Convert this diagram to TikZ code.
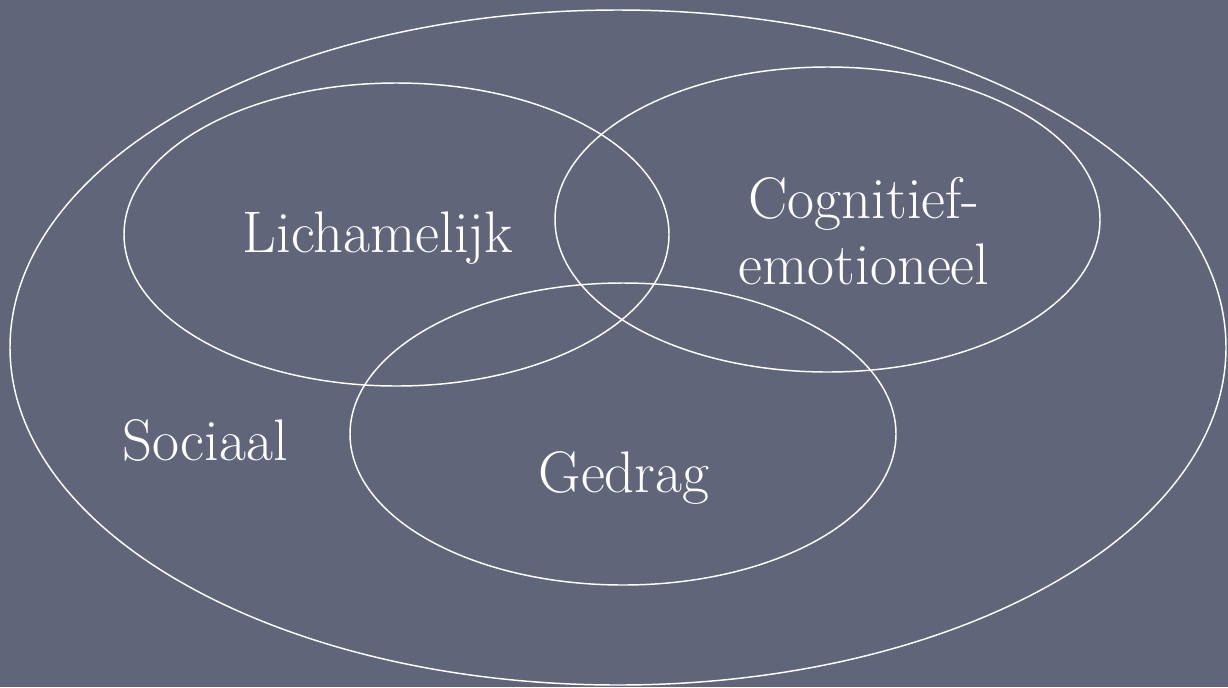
\documentclass[tikz,border=0pt]{standalone}
\usepackage{xcolor}
\usepackage{tikz}
\definecolor{slate}{RGB}{96,101,122}
\tikzset{
  rand/.style={color=white, line width=1.1},
  woord/.style={inner sep=0.75pt, text=white, align=center, font=\fontsize{44}{49}\selectfont}
}
\begin{document}
\begin{tikzpicture}[x=0.75pt,y=0.75pt,yscale=-1,xscale=1]

        \fill [slate] (0,0) rectangle (1228,687) ;
        \useasboundingbox (0,0) rectangle (1228,687) ;

        \draw [rand] (618,347.5) ellipse (608 and 337.5) ;
        \draw [rand] (396.5,234.5) ellipse (272.5 and 151.5) ;
        \draw [rand] (827.5,219.5) ellipse (272.5 and 152.5) ;
        \draw [rand] (623,434) ellipse (273 and 151) ;

        \draw (378,238) node [woord] (lichaam) {Lichamelijk};
        \draw (864,231) node [woord] (cognitief) {Cognitief-\\emotioneel};
        \draw (205,440) node [woord] (sociaal) {Sociaal};
        \draw (624,478) node [woord] (gedrag) {Gedrag};
    \end{tikzpicture}
\end{document}
